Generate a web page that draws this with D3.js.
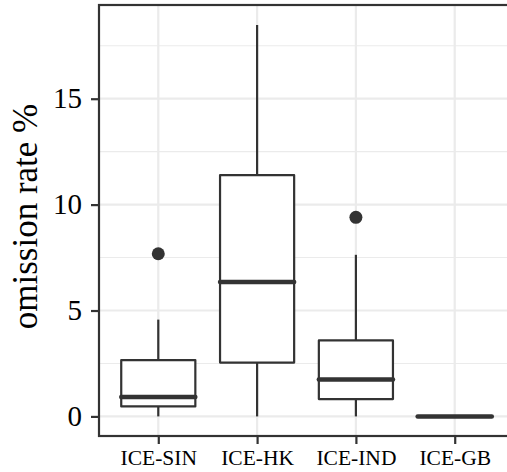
<!DOCTYPE html>
<html>
<head>
<meta charset="utf-8">
<script src="https://cdn.jsdelivr.net/npm/d3@7"></script>
<style>
  body { margin: 0; background: #fff; }
</style>
</head>
<body>
<div id="chart"></div>
<script>
// data
const categories = ["ICE-SIN", "ICE-HK", "ICE-IND", "ICE-GB"];
const whiskerLow = [0, 0, 0, 0];
const q1 = [0.47, 2.54, 0.82, 0];
const medians = [0.92, 6.35, 1.74, 0];
const q3 = [2.66, 11.39, 3.59, 0];
const whiskerHigh = [4.57, 18.48, 7.63, 0];
const outliers = [[7.68], [], [9.4], []];
const yTicks = [0, 5, 10, 15];
const yMinor = [2.5, 7.5, 12.5, 17.5];

const width = 507, height = 472;
const panel = {left: 99, top: 5, right: 514, bottom: 436};
const ink = "#333333";
const serif = "'Liberation Serif', 'Times New Roman', 'DejaVu Serif', serif";

const boxes = categories.map((c, i) => ({
    cat: c, lo: whiskerLow[i], q1: q1[i], med: medians[i],
    q3: q3[i], hi: whiskerHigh[i], out: outliers[i]
}));

const svg = d3.select("#chart").append("svg")
    .attr("width", width)
    .attr("height", height)
    .style("font-family", serif);

const x = d3.scalePoint().domain(categories)
    .range([panel.left, panel.right]).padding(0.6);
const y = d3.scaleLinear().domain([-0.925, 19.425])
    .range([panel.bottom, panel.top]);
const boxW = x.step() * 0.75;

// grid
const grid = svg.append("g");
grid.selectAll("line.minor").data(yMinor).join("line")
    .attr("x1", panel.left).attr("x2", panel.right)
    .attr("y1", d => y(d)).attr("y2", d => y(d))
    .attr("stroke", "#ebebeb").attr("stroke-width", 1.1);
grid.selectAll("line.major").data(yTicks).join("line")
    .attr("x1", panel.left).attr("x2", panel.right)
    .attr("y1", d => y(d)).attr("y2", d => y(d))
    .attr("stroke", "#ebebeb").attr("stroke-width", 2.2);
grid.selectAll("line.vmajor").data(categories).join("line")
    .attr("x1", d => x(d)).attr("x2", d => x(d))
    .attr("y1", panel.top).attr("y2", panel.bottom)
    .attr("stroke", "#ebebeb").attr("stroke-width", 2.2);

// boxplots
const g = svg.append("g");
g.selectAll("line.whisk-hi").data(boxes).join("line")
    .attr("x1", d => x(d.cat)).attr("x2", d => x(d.cat))
    .attr("y1", d => y(d.q3)).attr("y2", d => y(d.hi))
    .attr("stroke", ink).attr("stroke-width", 2.2);
g.selectAll("line.whisk-lo").data(boxes).join("line")
    .attr("x1", d => x(d.cat)).attr("x2", d => x(d.cat))
    .attr("y1", d => y(d.q1)).attr("y2", d => y(d.lo))
    .attr("stroke", ink).attr("stroke-width", 2.2);
g.selectAll("rect.box").data(boxes).join("rect")
    .attr("x", d => x(d.cat) - boxW / 2)
    .attr("y", d => y(d.q3))
    .attr("width", boxW)
    .attr("height", d => y(d.q1) - y(d.q3))
    .attr("fill", "white")
    .attr("stroke", ink).attr("stroke-width", 2.2)
    .attr("stroke-linejoin", "round");
g.selectAll("line.median").data(boxes).join("line")
    .attr("x1", d => x(d.cat) - boxW / 2).attr("x2", d => x(d.cat) + boxW / 2)
    .attr("y1", d => y(d.med)).attr("y2", d => y(d.med))
    .attr("stroke", ink).attr("stroke-width", 4.5)
    .attr("stroke-linecap", "round");
g.selectAll("circle.out")
    .data(boxes.flatMap(d => d.out.map(v => ({cat: d.cat, v}))))
    .join("circle")
    .attr("cx", d => x(d.cat)).attr("cy", d => y(d.v))
    .attr("r", 6.5).attr("fill", ink);

// panel border
svg.append("rect")
    .attr("x", panel.left).attr("y", panel.top)
    .attr("width", panel.right - panel.left)
    .attr("height", panel.bottom - panel.top)
    .attr("fill", "none").attr("stroke", ink).attr("stroke-width", 2.2);

// axes
const yAxis = svg.append("g")
    .attr("transform", `translate(${panel.left},0)`)
    .call(d3.axisLeft(y).tickValues(yTicks).tickSize(8).tickPadding(9));
const xAxis = svg.append("g")
    .attr("transform", `translate(0,${panel.bottom})`)
    .call(d3.axisBottom(x).tickSize(8).tickPadding(6));
[yAxis, xAxis].forEach(a => {
    a.attr("font-family", serif);
    a.select(".domain").remove();
    a.selectAll(".tick line").attr("stroke", ink).attr("stroke-width", 2.2);
    a.selectAll(".tick text").attr("fill", "black");
});
yAxis.selectAll(".tick text").attr("font-size", 29);
xAxis.selectAll(".tick text").attr("font-size", 21.5);

svg.append("text")
    .attr("transform", `translate(37,${(panel.top + panel.bottom) / 2 - 4}) rotate(-90)`)
    .attr("text-anchor", "middle")
    .attr("font-family", serif)
    .attr("font-size", 35)
    .attr("fill", "black")
    .text("omission rate %");
</script>
</body>
</html>
